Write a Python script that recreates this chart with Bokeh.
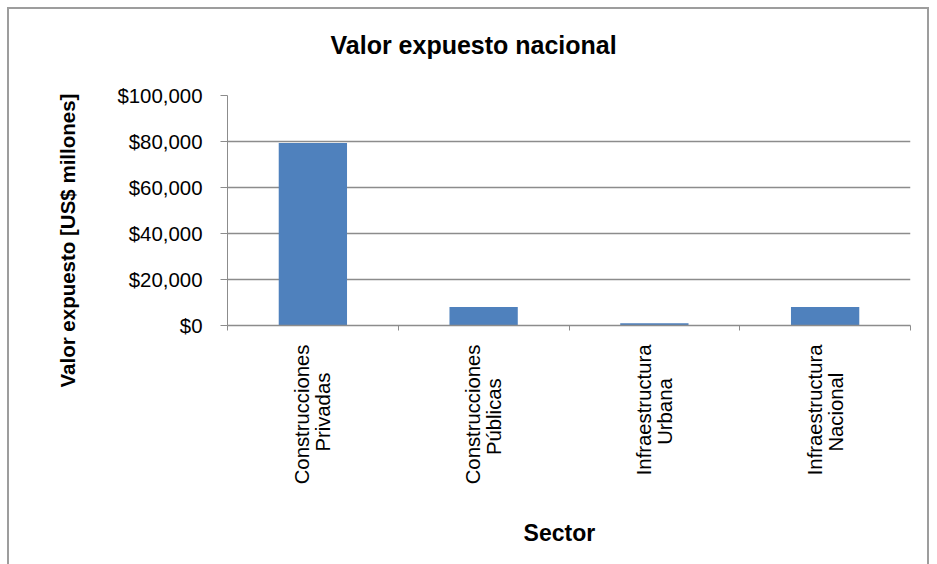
import math
from bokeh.plotting import figure
from bokeh.models import Range1d, FixedTicker, NumeralTickFormatter, Title
from bokeh.embed import file_html
from bokeh.resources import INLINE

# ---- data ----
categories = ["Construcciones\nPrivadas     ", "Construcciones\nPúblicas      ",
              "Infraestructura\nUrbana      ", "Infraestructura\nNacional     "]
values = [79400, 8000, 1000, 8000]
y_ticks = [0, 20000, 40000, 60000, 80000, 100000]
title_text = "Valor expuesto  nacional\n"
y_label_text = "Valor expuesto [US$ millones]"
x_label_text = "Sector   "

FONT = "Liberation Sans"
GRID = "#8c8c8c"
BORDER = "2px solid #9d9d9d"

n = len(categories)
xc = [i + 0.5 for i in range(n)]

p = figure(width=922, height=557, output_backend="svg", toolbar_location=None,
           x_range=Range1d(0, n), y_range=Range1d(0, y_ticks[-1]),
           min_border_left=218, min_border_right=21, min_border_top=86,
           min_border_bottom=241)
p.styles = {"margin-left": "7px", "margin-top": "7px",
            "border-top": BORDER, "border-left": BORDER, "border-right": BORDER}
p.outline_line_color = None
p.background_fill_color = "white"
p.border_fill_color = "white"

p.vbar(x=xc, top=values, width=0.4, fill_color="#4F81BD", line_color=None)

# y axis
p.yaxis.ticker = FixedTicker(ticks=y_ticks)
p.yaxis.formatter = NumeralTickFormatter(format="$0,0")
p.yaxis.major_tick_out = 7
p.yaxis.major_tick_in = 0
p.yaxis.minor_tick_out = 0
p.yaxis.minor_tick_in = 0
p.yaxis.axis_line_color = GRID
p.yaxis.major_tick_line_color = GRID
p.yaxis.major_label_standoff = 18
p.yaxis.major_label_text_font = FONT
p.yaxis.major_label_text_font_size = "20.4px"
p.yaxis.major_label_text_color = "black"

p.ygrid.ticker = FixedTicker(ticks=y_ticks)
p.ygrid.grid_line_color = GRID
p.ygrid.grid_line_width = 1.3
p.xgrid.visible = False

# x axis: labels at category centres, tick marks at category boundaries
p.xaxis.ticker = FixedTicker(ticks=xc, minor_ticks=list(range(n + 1)))
p.xaxis.major_label_overrides = {x: c for x, c in zip(xc, categories)}
p.xaxis.major_tick_out = 0
p.xaxis.major_tick_in = 0
p.xaxis.minor_tick_out = 5
p.xaxis.minor_tick_in = 0
p.xaxis.minor_tick_line_color = GRID
p.xaxis.axis_line_color = GRID
p.xaxis.axis_line_width = 1.3
p.xaxis.major_label_orientation = math.pi / 2
p.xaxis.major_label_standoff = 14
p.xaxis.major_label_text_font = FONT
p.xaxis.major_label_text_font_size = "20.3px"
p.xaxis.major_label_text_line_height = 0.95
p.xaxis.major_label_text_color = "black"
p.xaxis.axis_label = x_label_text
p.xaxis.axis_label_standoff = 33
p.xaxis.axis_label_text_font = FONT
p.xaxis.axis_label_text_font_size = "23px"
p.xaxis.axis_label_text_font_style = "bold"
p.xaxis.axis_label_text_color = "black"

p.title.text = title_text
p.title.align = "left"
p.title.offset = 103
p.title.standoff = 18
p.title.text_font = FONT
p.title.text_font_size = "25px"
p.title.text_font_style = "bold"
p.title.text_color = "black"

p.add_layout(Title(text=y_label_text, align="left", offset=-62, standoff=72,
                   text_font=FONT, text_font_size="20.5px", text_font_style="bold",
                   text_color="black"),
             "left")

open("out.html", "w").write(file_html(p, INLINE))
